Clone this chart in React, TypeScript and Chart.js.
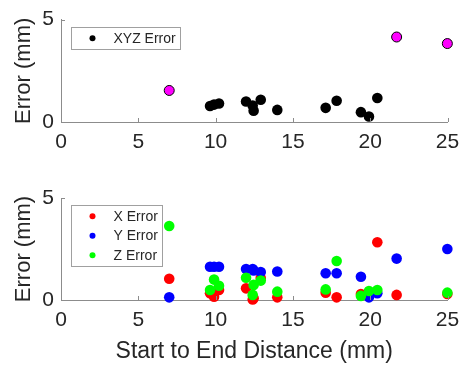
import React, { useEffect, useRef } from 'react';
import { Chart, registerables } from 'chart.js';

Chart.register(...registerables);

// ---------- data ----------
const distances = [7.0, 9.64, 9.9, 10.22, 11.97, 12.4, 12.46, 12.92, 13.99, 17.12, 17.83, 19.4, 19.92, 20.46, 21.71, 24.99];
const xyzError = [1.54, 0.78, 0.85, 0.9, 1.0, 0.8, 0.55, 1.09, 0.59, 0.69, 1.04, 0.48, 0.27, 1.17, 4.15, 3.83];
const highlighted = [true, false, false, false, false, false, false, false, false, false, false, false, false, false, true, true];
const xError = [1.04, 0.33, 0.16, 0.49, 0.57, 0.03, 0.08, 1.08, 0.13, 0.36, 0.13, 0.29, 0.25, 2.83, 0.25, 0.3];
const yError = [0.13, 1.63, 1.63, 1.63, 1.52, 1.52, 1.45, 1.37, 1.4, 1.31, 1.31, 1.14, 0.13, 0.33, 2.03, 2.5];
const zError: (number | null)[] = [3.63, 0.49, 1.0, 0.7, 1.09, 0.25, 0.74, 0.95, 0.41, 0.52, 1.91, 0.2, 0.44, 0.49, null, 0.36];
const xTickValues = [0, 5, 10, 15, 20, 25];
const yTickValues = [0, 5];

const TEXT = '#262626';
const AXIS = '#8c8c8c';
const FONT = '"Liberation Sans", Arial, Helvetica, sans-serif';

const pts = (ys: (number | null)[], keep?: (i: number) => boolean) =>
  distances
    .map((x, i) => ({ x, y: ys[i] }))
    .filter((p, i) => p.y !== null && (!keep || keep(i)));

// inward ticks + boxed legend inside the axes
const matlabPlugin = {
  id: 'matlabLook',
  afterDraw(chart: any) {
    const ctx = chart.ctx;
    const { left, top, bottom } = chart.chartArea;
    const xs = chart.scales.x;
    const ys = chart.scales.y;
    ctx.save();
    ctx.strokeStyle = AXIS;
    ctx.lineWidth = 1;
    ctx.beginPath();
    xs.ticks.forEach((t: any) => {
      const px = Math.round(xs.getPixelForValue(t.value)) + 0.5;
      ctx.moveTo(px, bottom);
      ctx.lineTo(px, bottom - 4);
    });
    ys.ticks.forEach((t: any) => {
      const py = Math.round(ys.getPixelForValue(t.value)) + 0.5;
      ctx.moveTo(left, py);
      ctx.lineTo(left + 4, py);
    });
    ctx.stroke();

    // legend
    const items = chart.data.datasets.filter((d: any) => !d.noLegend);
    ctx.font = `14px ${FONT}`;
    const rowH = 19.5;
    let maxW = 0;
    items.forEach((d: any) => (maxW = Math.max(maxW, ctx.measureText(d.label).width)));
    const bx = Math.round(left + 10) + 0.5;
    const by = Math.round(top + 7) + 0.5;
    const bw = Math.round(42 + maxW + 5);
    const bh = Math.round(items.length * rowH + 2);
    ctx.fillStyle = '#ffffff';
    ctx.fillRect(bx, by, bw, bh);
    ctx.strokeStyle = '#a0a0a0';
    ctx.strokeRect(bx, by, bw, bh);
    items.forEach((d: any, i: number) => {
      const cy = by + 1 + rowH * (i + 0.5);
      ctx.beginPath();
      ctx.fillStyle = d.backgroundColor;
      ctx.arc(bx + 21, cy, 3, 0, Math.PI * 2);
      ctx.fill();
      ctx.fillStyle = TEXT;
      ctx.textBaseline = 'middle';
      ctx.textAlign = 'left';
      ctx.fillText(d.label, bx + 42, cy + 0.5);
    });
    ctx.restore();
  },
};

function axes(showXTitle: boolean, xHeight: number) {
  return {
    x: {
      type: 'linear',
      min: 0,
      max: 25,
      afterBuildTicks: (s: any) => {
        s.ticks = xTickValues.map((v) => ({ value: v }));
      },
      afterFit: (s: any) => {
        s.height = xHeight;
        s.paddingLeft = 0;
        s.paddingRight = 0;
      },
      ticks: { font: { family: FONT, size: 21 }, color: TEXT, padding: 8, maxRotation: 0, autoSkip: false },
      grid: { display: false, drawTicks: false },
      border: { display: true, color: AXIS, width: 1 },
      title: {
        display: showXTitle,
        text: 'Start to End Distance (mm)',
        font: { family: FONT, size: 23 },
        color: TEXT,
        padding: { top: 0, bottom: 0 },
      },
    },
    y: {
      type: 'linear',
      min: 0,
      max: 5,
      afterBuildTicks: (s: any) => {
        s.ticks = yTickValues.map((v) => ({ value: v }));
      },
      afterFit: (s: any) => {
        s.width = 61;
      },
      ticks: { font: { family: FONT, size: 21 }, color: TEXT, padding: 7 },
      grid: { display: false, drawTicks: false },
      border: { display: true, color: AXIS, width: 1 },
      title: {
        display: true,
        text: 'Error (mm)',
        font: { family: FONT, size: 22 },
        color: TEXT,
        padding: { top: 11, bottom: 0 },
      },
    },
  };
}

const baseOptions = (padTop: number, showXTitle: boolean, xHeight: number) => ({
  animation: false,
  responsive: false,
  maintainAspectRatio: false,
  layout: { padding: { top: padTop, right: 16.5, left: 0, bottom: 0 } },
  plugins: { legend: { display: false }, tooltip: { enabled: false } },
  scales: axes(showXTitle, xHeight),
});

export default function App() {
  const topRef = useRef<HTMLCanvasElement>(null);
  const botRef = useRef<HTMLCanvasElement>(null);

  useEffect(() => {
    document.body.style.margin = '0';
    const c1 = new Chart(topRef.current!, {
      type: 'scatter',
      data: {
        datasets: [
          {
            label: 'XYZ Error',
            data: pts(xyzError, (i) => !highlighted[i]),
            backgroundColor: '#000000',
            borderColor: '#000000',
            pointRadius: 5.3,
            borderWidth: 0,
            clip: false,
          },
          {
            label: 'Highlighted',
            noLegend: true,
            data: pts(xyzError, (i) => highlighted[i]),
            backgroundColor: '#ff00ff',
            borderColor: '#000000',
            pointRadius: 5,
            borderWidth: 1,
            clip: false,
          },
        ] as any,
      },
      options: baseOptions(18, false, 43) as any,
      plugins: [matlabPlugin],
    });
    const c2 = new Chart(botRef.current!, {
      type: 'scatter',
      data: {
        datasets: [
          { label: 'X Error', data: pts(xError), backgroundColor: '#ff0000', borderWidth: 0, pointRadius: 5.3, order: 3, clip: false },
          { label: 'Y Error', data: pts(yError), backgroundColor: '#0000ff', borderWidth: 0, pointRadius: 5.3, order: 2, clip: false },
          { label: 'Z Error', data: pts(zError), backgroundColor: '#00ff00', borderWidth: 0, pointRadius: 5.3, order: 1, clip: false },
        ] as any,
      },
      options: baseOptions(33, true, 65) as any,
      plugins: [matlabPlugin],
    });
    return () => {
      c1.destroy();
      c2.destroy();
    };
  }, []);

  return (
    <div style={{ position: 'relative', width: 464, height: 365, background: '#fff' }}>
      <canvas ref={topRef} width={464} height={165} style={{ position: 'absolute', left: 0, top: 0, width: 464, height: 165 }} />
      <canvas ref={botRef} width={464} height={200} style={{ position: 'absolute', left: 0, top: 165, width: 464, height: 200 }} />
    </div>
  );
}
